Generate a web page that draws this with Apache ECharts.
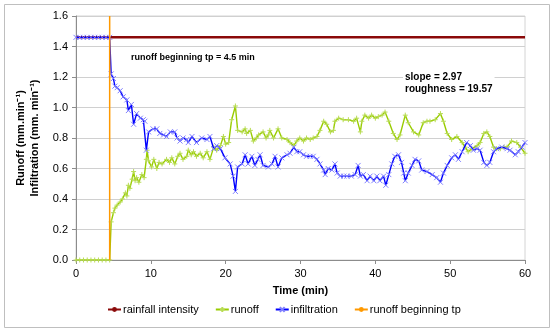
<!DOCTYPE html>
<html><head><meta charset="utf-8">
<script src="https://cdn.jsdelivr.net/npm/echarts@6/dist/echarts.min.js"></script>
<style>html,body{margin:0;padding:0;background:#fff}#c{width:550px;height:328px}</style>
</head><body><div id="c"></div>
<script>
const xTicks = [0, 10, 20, 30, 40, 50, 60];
const yTicks = [0.0, 0.2, 0.4, 0.6, 0.8, 1.0, 1.2, 1.4, 1.6];
const legendNames = ["rainfall intensity", "runoff", "infiltration", "runoff beginning tp"];

const rainfallTime = [0, 60];
const rainfall = [1.46, 1.46];

const tpTime = [4.5, 4.5];
const tpValues = [0, 1.6];

const runoffTime = [0,0.5,1,1.5,2,2.5,3,3.5,4,4.5,4.7,5.0,5.2,5.5,5.9,6.2,6.6,6.8,7.0,7.2,7.5,7.7,7.9,8.1,8.4,8.8,9.1,9.4,9.5,9.7,10.1,10.4,10.8,11.1,11.5,12.1,12.5,12.8,13.2,13.6,13.9,14.3,14.8,15.0,15.4,15.7,16.1,16.6,17.0,17.5,17.9,18.4,18.8,19.3,19.7,20.0,20.4,20.8,21.3,21.6,22.2,22.6,22.8,23.3,23.7,24.1,24.4,25.0,25.4,25.7,25.9,26.4,27.0,27.5,28.2,28.6,29.1,29.5,29.9,30.4,30.8,31.3,31.7,32.2,32.6,33.1,33.5,34.0,34.4,34.6,35.1,35.7,36.4,37.1,37.5,38.0,38.2,38.6,39.1,39.5,40.0,40.4,40.9,41.3,41.8,42.4,42.9,43.3,44.0,44.4,45.1,45.8,46.4,46.9,47.3,48.0,48.7,49.1,49.6,50.2,50.9,51.6,52.0,52.4,52.9,53.6,54.0,54.5,54.9,55.3,55.8,56.2,56.7,57.2,57.6,58.2,58.9,59.4,60.0];
const runoff = [0,0,0,0,0,0,0,0,0,0,0.25,0.31,0.34,0.36,0.38,0.40,0.44,0.42,0.49,0.47,0.53,0.58,0.52,0.54,0.51,0.56,0.54,0.66,0.72,0.65,0.61,0.66,0.60,0.64,0.63,0.66,0.64,0.67,0.63,0.68,0.70,0.66,0.68,0.72,0.69,0.71,0.68,0.70,0.67,0.71,0.66,0.74,0.72,0.75,0.81,0.76,0.77,0.92,1.01,0.85,0.84,0.86,0.83,0.85,0.78,0.80,0.82,0.84,0.80,0.82,0.85,0.80,0.86,0.80,0.79,0.77,0.75,0.78,0.80,0.78,0.80,0.79,0.80,0.81,0.85,0.91,0.89,0.84,0.85,0.91,0.93,0.92,0.92,0.91,0.93,0.84,0.91,0.95,0.93,0.95,0.93,0.94,0.95,0.97,0.91,0.83,0.79,0.82,0.95,0.90,0.84,0.82,0.90,0.91,0.91,0.92,0.96,0.91,0.83,0.79,0.81,0.77,0.74,0.71,0.73,0.75,0.77,0.83,0.84,0.81,0.74,0.73,0.73,0.74,0.74,0.78,0.77,0.74,0.70];

const infilTime = [0,0.5,1,1.5,2,2.5,3,3.5,4,4.5,4.7,5.0,5.2,5.5,5.9,6.3,6.8,7.0,7.4,7.7,8.1,8.6,9.0,9.2,9.4,9.7,10.3,10.8,11.2,11.7,12.1,12.6,13.2,13.5,13.9,14.3,14.8,15.0,15.5,16.1,16.8,17.5,17.9,18.4,18.8,19.3,19.9,20.6,21.0,21.3,21.6,22.2,22.6,23.0,23.5,23.9,24.3,24.6,25.0,25.7,26.2,26.6,27.0,27.5,28.2,28.6,29.1,29.5,29.9,30.4,30.8,31.3,31.7,32.2,32.6,33.1,33.3,33.7,34.2,34.6,34.9,35.3,35.8,36.2,36.8,37.3,37.7,38.0,38.4,38.9,39.3,39.8,40.2,40.6,41.1,41.4,41.8,42.2,42.6,43.1,43.5,43.8,44.0,44.4,44.9,45.3,45.8,46.2,46.9,47.6,48.2,48.7,49.1,49.6,50.2,50.7,51.1,51.6,52.2,52.7,53.1,53.6,54.0,54.5,54.9,55.3,55.8,56.2,56.9,57.6,58.0,58.7,59.1,59.6,60.0];
const infiltration = [1.46,1.46,1.46,1.46,1.46,1.46,1.46,1.46,1.46,1.46,1.22,1.19,1.14,1.13,1.11,1.07,1.05,0.98,1.02,0.89,0.96,0.93,0.92,0.91,0.72,0.84,0.86,0.86,0.83,0.82,0.81,0.84,0.84,0.80,0.78,0.80,0.79,0.77,0.81,0.77,0.80,0.79,0.81,0.73,0.75,0.73,0.67,0.63,0.55,0.45,0.61,0.63,0.69,0.63,0.68,0.62,0.66,0.69,0.62,0.61,0.63,0.68,0.61,0.67,0.69,0.70,0.74,0.71,0.71,0.69,0.68,0.68,0.68,0.66,0.63,0.59,0.56,0.60,0.59,0.63,0.57,0.55,0.55,0.55,0.55,0.56,0.62,0.55,0.56,0.52,0.55,0.52,0.55,0.52,0.55,0.49,0.56,0.63,0.68,0.69,0.64,0.57,0.52,0.57,0.62,0.66,0.65,0.59,0.58,0.56,0.54,0.51,0.57,0.62,0.67,0.69,0.66,0.71,0.77,0.75,0.72,0.73,0.72,0.64,0.62,0.64,0.71,0.73,0.74,0.73,0.72,0.69,0.71,0.74,0.77];

const pairs = (t, v) => t.map((x, i) => [x, v[i]]);
const FONT = "'Liberation Sans', Arial, sans-serif";
const plusPath = 'path://M5,0L5,10M0,5L10,5';
const xPath = 'path://M0,0L10,10M10,0L0,10';

const chart = echarts.init(document.getElementById('c'), null, {renderer: 'canvas'});
chart.setOption({
  animation: false,
  backgroundColor: '#fff',
  textStyle: {fontFamily: FONT},
  grid: {left: 76, right: 25, top: 16, bottom: 68, show: true, borderColor: '#d4d4d4', borderWidth: 1},
  xAxis: {
    type: 'value', min: xTicks[0], max: xTicks[xTicks.length - 1], interval: 10,
    name: 'Time (min)', nameLocation: 'middle', nameGap: 25,
    nameTextStyle: {fontWeight: 'bold', fontSize: 11, color: '#000', fontFamily: FONT},
    axisLine: {lineStyle: {color: '#8c8c8c', width: 1}},
    axisTick: {show: true, length: 4, lineStyle: {color: '#8c8c8c'}},
    axisLabel: {fontSize: 11, color: '#000', margin: 8, formatter: v => String(v)},
    splitLine: {show: false}
  },
  yAxis: {
    type: 'value', min: yTicks[0], max: yTicks[yTicks.length - 1], interval: 0.2,
    name: 'Runoff (mm.min\u207B\u00B9)\nInfiltration (mm. min\u207B\u00B9)', nameLocation: 'middle', nameGap: 34,
    nameRotate: 90,
    nameTextStyle: {fontWeight: 'bold', fontSize: 11, color: '#000', lineHeight: 14, fontFamily: FONT},
    axisLine: {show: true, lineStyle: {color: '#8c8c8c', width: 1}},
    axisTick: {show: true, length: 4, lineStyle: {color: '#8c8c8c'}},
    axisLabel: {fontSize: 11, color: '#000', margin: 8, formatter: v => v.toFixed(1)},
    splitLine: {show: true, lineStyle: {color: '#d0d0d0', width: 1}}
  },
  legend: {
    bottom: 8, left: 102, itemGap: 16, itemWidth: 13, itemHeight: 6,
    textStyle: {fontSize: 11, color: '#000', fontFamily: FONT, padding: [0, 0, 0, -3]},
    data: legendNames
  },
  series: [
    {name: legendNames[0], type: 'line', data: pairs(rainfallTime, rainfall),
     lineStyle: {color: '#8b0a0a', width: 2.5}, itemStyle: {color: '#8b0a0a'},
     symbol: 'circle', symbolSize: 3, showSymbol: false, z: 2},
    {name: legendNames[1], type: 'line', data: pairs(runoffTime, runoff),
     lineStyle: {color: '#99cc00', width: 1.4}, itemStyle: {color: 'rgba(0,0,0,0)', borderColor: '#b8dc55', borderWidth: 1},
     symbol: plusPath, symbolSize: 5, showSymbol: true, z: 3},
    {name: legendNames[2], type: 'line', data: pairs(infilTime, infiltration),
     lineStyle: {color: '#0000ff', width: 1.4}, itemStyle: {color: 'rgba(0,0,0,0)', borderColor: '#8080ff', borderWidth: 1},
     symbol: xPath, symbolSize: 5, showSymbol: true, z: 4},
    {name: legendNames[3], type: 'line', data: pairs(tpTime, tpValues),
     lineStyle: {color: '#ff9900', width: 1.5}, itemStyle: {color: '#ff9900'},
     symbol: 'circle', symbolSize: 2, showSymbol: false, z: 5}
  ],
  graphic: [
    {type: 'rect', left: 2, top: 2, shape: {width: 545, height: 323}, style: {fill: 'none', stroke: '#bfbfbf', lineWidth: 1}, silent: true},
    {type: 'text', left: 131, top: 53, z: 10, style: {text: 'runoff beginning tp = 4.5 min', font: 'bold 9px ' + FONT, fill: '#000'}},
    {type: 'text', left: 403, top: 70, z: 10, style: {text: 'slope = 2.97\nroughness = 19.57', font: 'bold 10px ' + FONT, fill: '#000', lineHeight: 12, backgroundColor: '#fff', padding: [1, 2, 1, 2]}}
  ]
});
</script>
</body></html>
